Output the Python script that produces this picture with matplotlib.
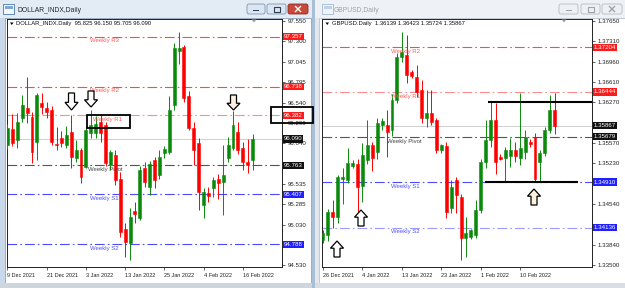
import matplotlib
matplotlib.use('Agg')
import matplotlib.pyplot as plt
from matplotlib.patches import Rectangle, Polygon, FancyBboxPatch
import numpy as np

plt.rcParams['font.family'] = ['Liberation Sans', 'DejaVu Sans']
plt.rcParams['lines.scale_dashes'] = False

# ---------------- DATA ----------------
# DOLLAR_INDX daily, 9 Dec 2021 .. 18 Feb 2022
dxy_open = [96.02, 96.21, 96.08, 96.35, 96.47, 96.36, 96.05, 96.53, 96.47, 96.45,
            96.03, 96.10, 96.02, 96.18, 95.85, 95.95, 95.74, 96.16, 96.16, 96.30,
            96.26, 95.77, 95.89, 95.60, 94.97, 94.80, 95.20, 95.11, 95.73, 95.50,
            95.83, 95.64, 95.92, 95.93, 96.51, 97.18, 97.23, 96.62, 96.23, 96.04,
            95.27, 95.42, 95.48, 95.60, 95.56, 95.85, 95.98, 96.18, 95.98, 95.80,
            95.825]
dxy_high = [96.28, 96.40, 96.41, 96.63, 96.86, 96.42, 96.66, 96.66, 96.55, 96.50,
            96.24, 96.19, 96.25, 96.39, 96.08, 95.98, 96.25, 96.45, 96.38, 96.40,
            96.30, 95.95, 95.95, 95.68, 95.05, 95.23, 95.31, 95.75, 95.80, 95.82,
            95.87, 95.95, 96.00, 96.62, 97.28, 97.41, 97.25, 96.68, 96.30, 96.10,
            95.48, 95.50, 95.62, 95.66, 96.02, 96.12, 96.43, 96.30, 96.05, 96.09,
            96.150]
dxy_low = [95.97, 96.00, 95.98, 96.30, 96.29, 95.79, 95.83, 96.40, 96.35, 96.02,
           95.95, 95.99, 95.98, 95.73, 95.80, 95.54, 95.73, 96.10, 96.10, 96.05,
           95.75, 95.70, 95.52, 94.88, 94.63, 94.59, 95.05, 95.09, 95.50, 95.40,
           95.48, 95.60, 95.85, 95.90, 96.45, 97.02, 96.55, 96.20, 95.77, 95.21,
           95.11, 95.31, 95.37, 95.35, 95.15, 95.80, 95.95, 95.90, 95.71, 95.67,
           95.705]
dxy_close = [96.23, 96.04, 96.30, 96.51, 96.41, 95.93, 96.63, 96.48, 96.42, 96.05,
             96.02, 96.04, 96.14, 95.87, 95.95, 95.62, 96.20, 96.26, 96.28, 96.16,
             95.79, 95.93, 95.58, 94.94, 94.81, 95.12, 95.16, 95.71, 95.56, 95.78,
             95.58, 95.87, 95.96, 96.45, 97.22, 97.21, 96.60, 96.23, 95.95, 95.43,
             95.43, 95.38, 95.58, 95.54, 95.64, 96.02, 96.26, 95.95, 95.80, 95.77,
             96.090]
dxy_tick_pos = [0, 8, 16, 24, 32, 40, 48]
dxy_tick_lab = ['9 Dec 2021', '21 Dec 2021', '3 Jan 2022', '13 Jan 2022',
                '25 Jan 2022', '4 Feb 2022', '16 Feb 2022']
dxy_yticks = [97.550, 97.300, 97.045, 96.795, 96.540, 96.290, 96.040, 95.785,
              95.535, 95.285, 95.030, 94.780, 94.530]
dxy_ytick_hidden = [95.785, 94.780]
dxy_levels = [97.357, 96.738, 96.382, 95.763, 95.407, 94.788]
dxy_level_names = ['Weekly R3', 'Weekly R2', 'Weekly R1', 'Weekly Pivot',
                   'Weekly S1', 'Weekly S2']

# GBPUSD daily, 26 Dec 2021 .. 18 Feb 2022 (with Sunday bars)
gbp_open = [1.3392, 1.3401, 1.3440, 1.3432, 1.3497, 1.3495, 1.3519, 1.3521, 1.3484, 1.3529,
            1.3554, 1.3542, 1.3588, 1.3588, 1.3580, 1.3631, 1.3704, 1.3707, 1.3678, 1.3670,
            1.3648, 1.3600, 1.3609, 1.3597, 1.3546, 1.3552, 1.3447, 1.3494, 1.3466, 1.3396,
            1.3398, 1.3401, 1.3444, 1.3525, 1.3563, 1.3597, 1.3534, 1.3532, 1.3535, 1.3546,
            1.3532, 1.3543, 1.3560, 1.3568, 1.3525, 1.3540, 1.3580, 1.36139]
gbp_high = [1.3410, 1.3446, 1.3461, 1.3503, 1.3515, 1.3549, 1.3528, 1.3530, 1.3558, 1.3597,
            1.3560, 1.3600, 1.3600, 1.3614, 1.3640, 1.3710, 1.3746, 1.3741, 1.3682, 1.3690,
            1.3665, 1.3648, 1.3648, 1.3600, 1.3556, 1.3560, 1.3494, 1.3500, 1.3470, 1.3432,
            1.3412, 1.3461, 1.3530, 1.3597, 1.3627, 1.3625, 1.3538, 1.3550, 1.3566, 1.3560,
            1.3643, 1.3580, 1.3565, 1.3575, 1.3545, 1.3585, 1.3639, 1.36423]
gbp_low = [1.3388, 1.3390, 1.3413, 1.3422, 1.3453, 1.3490, 1.3515, 1.3430, 1.3457, 1.3522,
           1.3510, 1.3530, 1.3580, 1.3534, 1.3570, 1.3625, 1.3695, 1.3660, 1.3668, 1.3635,
           1.3592, 1.3585, 1.3588, 1.3540, 1.3540, 1.3430, 1.3439, 1.3439, 1.3359, 1.3364,
           1.3395, 1.3396, 1.3438, 1.3515, 1.3550, 1.3505, 1.3528, 1.3492, 1.3516, 1.3525,
           1.3520, 1.3530, 1.3550, 1.3491, 1.3491, 1.3535, 1.3575, 1.35724]
gbp_close = [1.3405, 1.3440, 1.3432, 1.3500, 1.3500, 1.3524, 1.3524, 1.3483, 1.3537, 1.3554,
             1.3532, 1.3592, 1.3595, 1.3577, 1.3631, 1.3704, 1.3712, 1.3673, 1.3672, 1.3645,
             1.3600, 1.3609, 1.3593, 1.3546, 1.3554, 1.3440, 1.3483, 1.3469, 1.3396, 1.3405,
             1.3410, 1.3444, 1.3525, 1.3563, 1.3597, 1.3525, 1.3531, 1.3546, 1.3546, 1.3535,
             1.3549, 1.3568, 1.3555, 1.3496, 1.3540, 1.3580, 1.3614, 1.35867]
gbp_tick_pos = [0, 8, 16, 24, 32, 40]
gbp_tick_lab = ['26 Dec 2021', '4 Jan 2022', '13 Jan 2022', '23 Jan 2022',
                '1 Feb 2022', '10 Feb 2022']
gbp_yticks = [1.37650, 1.37310, 1.36960, 1.36610, 1.36270, 1.35920, 1.35570,
              1.35230, 1.34880, 1.34540, 1.34190, 1.33840, 1.33500]
gbp_ytick_hidden = [1.35920, 1.34880, 1.34190]
gbp_levels = [1.37204, 1.36444, 1.35679, 1.34910, 1.34136]
gbp_level_names = ['Weekly R2', 'Weekly R1', 'Weekly Pivot', 'Weekly S1', 'Weekly S2']
gbp_marked = [1.36270, 1.34910]

# ---------------- FIGURE ----------------
W, H = 625, 288
fig = plt.figure(figsize=(W / 100, H / 100), dpi=100)

bg = fig.add_axes([0, 0, 1, 1], zorder=0)
bg.set_xlim(0, W); bg.set_ylim(H, 0); bg.axis('off')

ov = fig.add_axes([0, 0, 1, 1], zorder=10)
ov.set_xlim(0, W); ov.set_ylim(H, 0); ov.axis('off'); ov.patch.set_alpha(0)


def rect(a, x0, y0, x1, y1, fc, ec='none', lw=0.0, z=1):
    a.add_patch(Rectangle((x0, y0), x1 - x0, y1 - y0, fc=fc, ec=ec, lw=lw, zorder=z))


# window chrome
rect(bg, 0, 0, W, H, '#dfe5ec')
rect(bg, 0, 0, 313, 288, '#c9d8ea')
rect(bg, 0, 0, 313, 18, '#e3ebf5')
rect(bg, 5, 18, 311, 283, 'white', ec='#8ea3bb', lw=0.6)
rect(bg, 0, 283, 313, 288, '#cfd5dc')
rect(bg, 315, 0, W, 288, '#e4e8ed')
rect(bg, 315, 0, W, 18, '#eef1f5')
rect(bg, 319, 18, W, 283, 'white', ec='#b9c3ce', lw=0.6)
rect(bg, 315, 283, W, 288, '#dadde1')
rect(bg, 312, 0, 315, 288, '#a8bfd8')

for (ix, alpha) in [(3, 1.0), (322, 0.45)]:
    bg.add_patch(Rectangle((ix, 4), 11, 10, fc='#f4f8fc', ec='#4a78b0', lw=0.6, alpha=alpha, zorder=2))
    bg.add_patch(Rectangle((ix + 1.5, 5.5), 8, 3, fc='#7fa7d6', ec='none', alpha=alpha, zorder=3))
bg.text(18, 10, 'DOLLAR_INDX,Daily', fontsize=4.9, color='#1e2a3a', va='center', ha='left', zorder=3)
bg.text(334, 10, 'GBPUSD,Daily', fontsize=4.9, color='#9aa4b0', va='center', ha='left', zorder=3)


def button(x0, x1, fc, ec, glyph, gc):
    bg.add_patch(FancyBboxPatch((x0, 4), x1 - x0, 10, boxstyle='round,pad=0,rounding_size=2',
                                fc=fc, ec=ec, lw=0.6, zorder=3))
    cx = (x0 + x1) / 2
    if glyph == 'min':
        bg.add_patch(Rectangle((cx - 3, 9.5), 6, 1.6, fc=gc, ec='none', zorder=4))
    elif glyph == 'max':
        bg.add_patch(Rectangle((cx - 3, 6.5), 6, 5, fc='none', ec=gc, lw=0.8, zorder=4))
    else:
        bg.plot([cx - 2.5, cx + 2.5], [6.5, 11.5], color=gc, lw=1.0, zorder=4)
        bg.plot([cx - 2.5, cx + 2.5], [11.5, 6.5], color=gc, lw=1.0, zorder=4)


button(247, 265, '#dce6f2', '#7f95ae', 'min', '#2d3e52')
button(267, 286, '#dce6f2', '#7f95ae', 'max', '#2d3e52')
button(288, 308, '#c8483a', '#8d2d23', 'x', 'white')
button(559, 578, '#eef1f4', '#b3bcc6', 'min', '#9aa4ae')
button(581, 600, '#eef1f4', '#b3bcc6', 'max', '#9aa4ae')
button(602, 622, '#eef1f4', '#b3bcc6', 'x', '#9aa4ae')


def px_axes(x0, y0, x1, y1, z=2):
    return fig.add_axes([x0 / W, 1 - y1 / H, (x1 - x0) / W, (y1 - y0) / H], zorder=z)


def candles(ax, o, h, l, c):
    o, h, l, c = map(np.asarray, (o, h, l, c))
    x = np.arange(len(o))
    cols = np.where(c >= o, '#0a8a0a', '#ff0000')
    ax.vlines(x, l, h, colors=cols, linewidth=0.7, zorder=3)
    ax.bar(x, np.abs(c - o), bottom=np.minimum(o, c), width=0.6, color=cols,
           edgecolor=cols, linewidth=0.4, zorder=4)


LEVEL_STYLE = {
    'Weekly R3': ('#ff4a4a', '#ff5a5a'),
    'Weekly R2': ('#ff4a4a', '#ff5a5a'),
    'Weekly R1': ('#ff8c8c', '#ff5a5a'),
    'Weekly Pivot': ('#555555', '#444444'),
    'Weekly S1': ('#4a4aff', '#5050ff'),
    'Weekly S2': ('#4a4aff', '#5050ff'),
}
BOX_COL = {'R': '#ff1a1a', 'P': '#111111', 'S': '#2020ff'}


def setup(ax, n_xlim, ylim, yticks, hidden, yfmt, tpos, tlab):
    ax.set_xlim(*n_xlim)
    ax.set_ylim(*ylim)
    for s in ax.spines.values():
        s.set_linewidth(0.7); s.set_color('#222222')
    ax.yaxis.tick_right()
    ax.set_yticks(yticks)
    ax.set_yticklabels(['' if v in hidden else yfmt.format(v) for v in yticks])
    ax.tick_params(axis='y', length=2, width=0.5, pad=1.8, labelsize=4.4, colors='#222222')
    ax.set_xticks(tpos)
    ax.set_xticklabels(tlab)
    ax.tick_params(axis='x', length=2.5, width=0.5, pad=1.5, labelsize=4.0, colors='#222222')
    for t in ax.get_xticklabels():
        t.set_ha('left')


def price_box(ax, y, text, fc, z=6):
    ax.annotate(text, xy=(1, y), xycoords=('axes fraction', 'data'), xytext=(1.2, 0),
                textcoords='offset points', ha='left', va='center', fontsize=4.4,
                color='white', annotation_clip=False, zorder=z,
                bbox=dict(boxstyle='square,pad=0.18', fc=fc, ec='none'))


def levels(ax, vals, names, fmt, xfrac, lstyles):
    for v, nm in zip(vals, names):
        lc, tc = LEVEL_STYLE[nm]
        ls = lstyles.get(nm, lc)
        ax.axhline(v, color=ls, lw=0.8, dashes=(7, 2.2, 1.2, 2.2), zorder=2)
        ax.annotate(nm, xy=(xfrac.get(nm, xfrac['_']), v), xycoords=('axes fraction', 'data'),
                    xytext=(0, -1.2), textcoords='offset points', ha='left', va='top',
                    fontsize=4.3, color=tc, zorder=5)
        key = 'P' if 'Pivot' in nm else nm.split()[1][0]
        price_box(ax, v, fmt.format(v), BOX_COL[key])


# ---------------- LEFT CHART ----------------
axL = px_axes(7, 19, 282, 267)
setup(axL, (-0.1, 56.0), (94.505, 97.575), dxy_yticks, dxy_ytick_hidden, '{:.3f}',
      dxy_tick_pos, dxy_tick_lab)
axL.axhline(dxy_close[-1], color='#c8c8c8', lw=0.6, zorder=1)
candles(axL, dxy_open, dxy_high, dxy_low, dxy_close)
levels(axL, dxy_levels, dxy_level_names, '{:.3f}',
       {'_': 0.302, 'Weekly Pivot': 0.295, 'Weekly R1': 0.313}, {})
price_box(axL, dxy_close[-1], '{:.3f}'.format(dxy_close[-1]), '#111111')

# ---------------- RIGHT CHART ----------------
axR = px_axes(322, 19, 592, 267)
setup(axR, (-0.2, 54.56), (1.33466, 1.37684), gbp_yticks, gbp_ytick_hidden, '{:.5f}',
      gbp_tick_pos, gbp_tick_lab)
axR.axhline(gbp_close[-1], color='#c8c8c8', lw=0.6, zorder=1)
candles(axR, gbp_open, gbp_high, gbp_low, gbp_close)
levels(axR, gbp_levels, gbp_level_names, '{:.5f}',
       {'_': 0.257, 'Weekly Pivot': 0.241}, {'Weekly S2': '#9a9aff'})
price_box(axR, gbp_close[-1], '{:.5f}'.format(gbp_close[-1]), '#111111')
axR.hlines(gbp_marked[0], 33.5, 54.56, color='black', lw=1.5, zorder=5, clip_on=False)
axR.hlines(gbp_marked[1], 32.9, 51.7, color='black', lw=1.5, zorder=5)

# ---------------- HEADERS / MARKERS ----------------
ov.text(16, 24, 'DOLLAR_INDX.Daily  95.825 96.150 95.705 96.090', fontsize=4.2,
        color='#111111', va='center', ha='left')
ov.add_patch(Polygon([[10, 22.5], [13.5, 22.5], [11.75, 25]], fc='black', ec='none'))
ov.text(332, 24, 'GBPUSD.Daily  1.36139 1.36423 1.35724 1.35867', fontsize=4.2,
        color='#111111', va='center', ha='left')
ov.add_patch(Polygon([[325.5, 22.5], [329, 22.5], [327.25, 25]], fc='black', ec='none'))
for sx in (254, 564):
    ov.add_patch(Polygon([[sx - 2.5, 19.5], [sx + 2.5, 19.5], [sx, 22.5]], fc='#a0a0a0', ec='none'))

ov.add_patch(Rectangle((87, 115), 43, 13, fc='none', ec='black', lw=1.3))
ov.add_patch(Rectangle((271, 107), 42, 16, fc='none', ec='black', lw=1.3))


def hollow_arrow(cx, ytop, ybot, down=True, fc='white'):
    w_head, w_shaft = 6.5, 3.0
    hl = (ybot - ytop) * 0.45
    if down:
        pts = [[cx - w_shaft, ytop], [cx + w_shaft, ytop], [cx + w_shaft, ybot - hl],
               [cx + w_head, ybot - hl], [cx, ybot], [cx - w_head, ybot - hl],
               [cx - w_shaft, ybot - hl]]
    else:
        pts = [[cx - w_shaft, ybot], [cx + w_shaft, ybot], [cx + w_shaft, ytop + hl],
               [cx + w_head, ytop + hl], [cx, ytop], [cx - w_head, ytop + hl],
               [cx - w_shaft, ytop + hl]]
    ov.add_patch(Polygon(pts, closed=True, fc=fc, ec='black', lw=0.9, joinstyle='miter'))


hollow_arrow(71.5, 93, 110, True)
hollow_arrow(91, 91, 107, True)
hollow_arrow(233.5, 95, 110, True, fc='#fbf1de')
hollow_arrow(337, 241, 257, False)
hollow_arrow(361, 210, 226, False)
hollow_arrow(534, 189, 205, False, fc='#fbf1de')

fig.savefig('out.png', dpi=100)
